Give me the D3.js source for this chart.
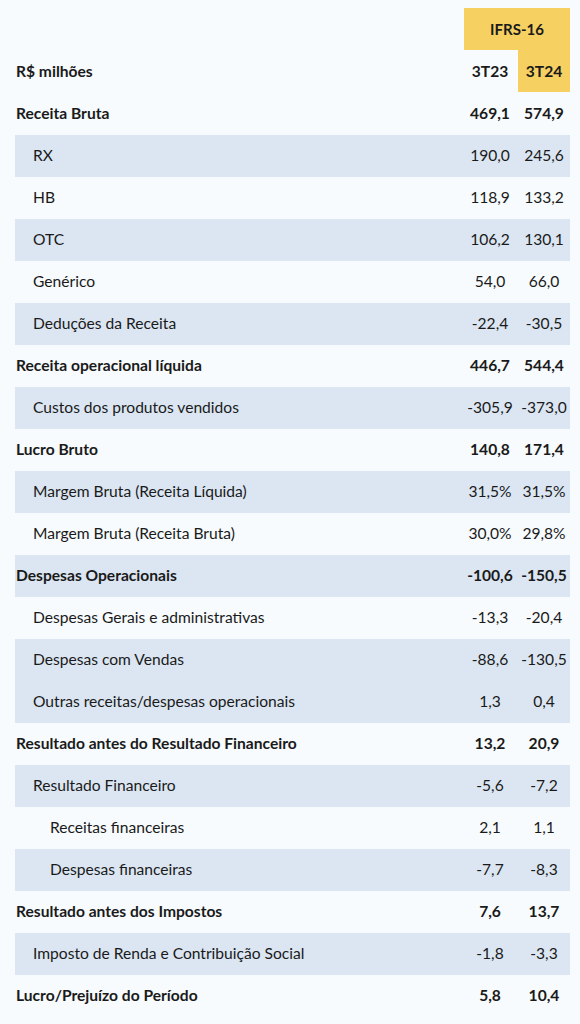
<!DOCTYPE html>
<html><head><meta charset="utf-8">
<script src="https://cdn.jsdelivr.net/npm/d3@7"></script>
<style>body{margin:0;background:#f7fbfd}</style></head>
<body><svg id="t" width="580" height="1024"></svg>
<script>
const labels = ['Receita Bruta','RX','HB','OTC','Genérico','Deduções da Receita','Receita operacional líquida','Custos dos produtos vendidos','Lucro Bruto','Margem Bruta (Receita Líquida)','Margem Bruta (Receita Bruta)','Despesas Operacionais','Despesas Gerais e administrativas','Despesas com Vendas','Outras receitas/despesas operacionais','Resultado antes do Resultado Financeiro','Resultado Financeiro','Receitas financeiras','Despesas financeiras','Resultado antes dos Impostos','Imposto de Renda e Contribuição Social','Lucro/Prejuízo do Período'];
const levels = [0,1,1,1,1,1,0,1,0,1,1,0,1,1,1,0,1,2,2,0,1,0];
const shaded = [0,1,0,1,0,1,0,1,0,1,0,1,0,1,1,0,1,0,1,0,1,0];
const v3T23 = ['469,1','190,0','118,9','106,2','54,0','-22,4','446,7','-305,9','140,8','31,5%','30,0%','-100,6','-13,3','-88,6','1,3','13,2','-5,6','2,1','-7,7','7,6','-1,8','5,8'];
const v3T24 = ['574,9','245,6','133,2','130,1','66,0','-30,5','544,4','-373,0','171,4','31,5%','29,8%','-150,5','-20,4','-130,5','0,4','20,9','-7,2','1,1','-8,3','13,7','-3,3','10,4'];
const periods = ['3T23','3T24'];

const svg = d3.select('#t');
const font = 'Lato, "Noto Sans", sans-serif';
const fs = 15.6;
const y = d3.scaleLinear().domain([0, 1]).range([114, 156]); // row centers, 42px pitch
const x = d3.scaleOrdinal().domain(periods).range([490, 544]);
const indent = [16, 33, 50];

// yellow IFRS-16 header
svg.append('rect').attr('x', 464).attr('y', 8).attr('width', 106).attr('height', 42).attr('fill', '#f6d162');
svg.append('rect').attr('x', 518).attr('y', 50).attr('width', 52).attr('height', 42).attr('fill', '#f6d162');
svg.append('text').attr('x', 517).attr('y', 30).attr('dy', '0.35em').attr('text-anchor', 'middle')
  .attr('font-family', font).attr('font-weight', 700).attr('font-size', 15).attr('fill', '#1a1a1a').text('IFRS-16');

svg.append('text').attr('x', 16).attr('y', 72).attr('dy', '0.35em')
  .attr('font-family', font).attr('font-weight', 700).attr('font-size', fs).attr('fill', '#1a1a1a').text('R$ milhões');
svg.selectAll('text.per').data(periods).enter().append('text').attr('class', 'per')
  .attr('x', d => x(d)).attr('y', 72).attr('dy', '0.35em').attr('text-anchor', 'middle')
  .attr('font-family', font).attr('font-weight', 700).attr('font-size', fs).attr('fill', '#1a1a1a').text(d => d);

const rows = labels.map((l, i) => ({ l, i, lv: levels[i], s: shaded[i], a: v3T23[i], b: v3T24[i] }));

svg.selectAll('rect.band').data(rows.filter(d => d.s)).enter().append('rect').attr('class', 'band')
  .attr('x', 15).attr('width', 555).attr('y', d => y(d.i) - 21).attr('height', 42).attr('fill', '#dbe6f2');

const g = svg.selectAll('g.row').data(rows).enter().append('g')
  .attr('transform', d => `translate(0,${y(d.i)})`)
  .attr('font-family', font).attr('font-size', fs).attr('fill', '#1a1a1a')
  .attr('font-weight', d => d.lv === 0 ? 700 : 400);
g.append('text').attr('x', d => indent[d.lv]).attr('dy', '0.35em').text(d => d.l);
g.append('text').attr('x', x('3T23')).attr('dy', '0.35em').attr('text-anchor', 'middle').text(d => d.a);
g.append('text').attr('x', x('3T24')).attr('dy', '0.35em').attr('text-anchor', 'middle').text(d => d.b);
</script></body></html>
